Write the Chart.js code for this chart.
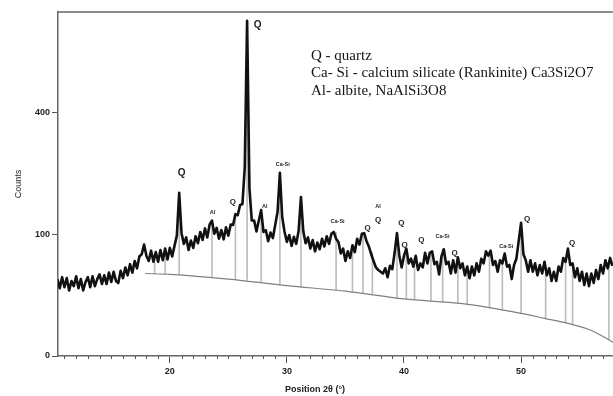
<!DOCTYPE html>
<html>
<head>
<meta charset="utf-8">
<script src="https://cdn.jsdelivr.net/npm/chart.js@4/dist/chart.umd.min.js"></script>
<style>
  html, body { margin: 0; padding: 0; background: #fff; overflow: hidden; }
  #wrap { width: 613px; height: 396px; position: relative; }
</style>
</head>
<body>
<div id="wrap"><canvas id="xrd" width="613" height="396"></canvas></div>
<script>
// ---- Diffraction pattern: counts sampled every 0.2 deg 2-theta from 10.4 ----
const TWO_THETA_START = 10.4;
const TWO_THETA_STEP = 0.2;
const counts = [
  40,31,42,32,41,29,38,33,43,31,
  40,29,37,42,32,43,33,40,45,35,
  44,35,47,37,48,38,36,49,41,53,
  44,57,47,61,52,67,70,84,68,61,
  75,60,73,60,76,62,78,63,79,67,
  82,98,180,102,85,95,76,90,79,97,
  86,104,91,110,95,117,124,101,111,93,
  107,92,112,98,117,116,136,134,154,156,
  240,760,190,124,124,105,124,144,104,107,
  89,103,94,116,140,227,130,104,88,99,
  82,96,85,106,171,105,86,95,78,91,
  74,87,77,93,81,97,85,101,104,93,
  88,71,78,61,74,65,83,73,93,84,
  101,102,89,81,70,61,53,50,48,46,
  52,42,55,51,72,102,68,53,68,78,
  58,64,54,68,50,58,53,72,58,72,
  74,57,60,45,67,77,57,60,46,62,
  47,66,52,58,44,54,41,54,44,58,
  48,64,58,74,68,75,56,61,48,62,
  58,71,54,56,40,56,64,90,120,70,
  62,48,62,48,58,44,56,46,60,44,
  52,38,48,38,54,48,65,60,78,56,
  58,42,52,38,48,34,46,33,46,36,
  50,40,56,46,62,52,65,55
];

// ---- Fitted background ----
const bgTwoTheta = [17.9, 20, 25, 30, 35, 40, 45, 50, 52, 54, 56, 57.85];
const bgCounts   = [46,   45, 40, 33.5, 28.4, 22, 18.5, 12.3, 9.6, 7.2, 4.4, 1.3];

// ---- Peak sticks (position, background level, peak top) ----
const stickPos  = [18.7, 19.6, 20.8, 23.6, 25.6, 26.6, 27.8, 29.4, 31.2, 34.2, 35.6, 36.5, 37.3, 39.4, 40.2, 40.9, 42.3, 43.3, 44.6, 45.4, 47.3, 48.4, 50.0, 52.1, 53.8, 54.4, 57.5];
const stickBase = [45.5, 45,   45,   41.5, 39.5, 38.5, 36.5, 34.2, 32.2, 29.2, 27.6, 26.5, 25.6, 22.7, 21.9, 21.4, 20.4, 19.7, 18.8, 18.0, 15.6, 14.3, 12.3, 9.5,  7.4,  6.6,  1.8];
const stickTop  = [70,   72,   180,  124,  134,  760,  144,  227,  171,  104,  80,   102,  73,   102,  78,   65,   69,   77,   64,   51,   73,   61,   120,  47,   62,   55,   55];

// ---- Phase labels on peaks ----
const peakLabel  = ['Q', 'Q', 'Al', 'Q', 'Al', 'Ca-Si', 'Ca-Si', 'Q', 'Al', 'Q', 'Q', 'Q', 'Q', 'Ca-Si', 'Q', 'Ca-Si', 'Q', 'Q'];
const peakLabelX = [21.02, 27.51, 23.64, 25.38, 28.11, 29.64, 34.33, 36.89, 37.78, 37.78, 39.77, 40.05, 41.48, 43.29, 44.32, 48.73, 50.52, 54.36];
const peakLabelY = [227, 741, 139, 160, 151, 248, 122, 111, 151, 125, 120, 83, 91, 96, 72, 81, 127, 86];

// ---- Axes ----
const xMajorTicks = [20, 30, 40, 50];
const yTicks = [0, 100, 400];
const X_MIN = 10.45, X_MAX = 57.85;
const Y_MAX = 800;

const phaseKey = [
  'Q - quartz',
  'Ca- Si - calcium silicate (Rankinite) Ca3Si2O7',
  'Al- albite, NaAlSi3O8'
];
const xTitle = 'Position 2θ (°)';
const yTitle = 'Counts';

// Square-root intensity axis
class SqrtScale extends Chart.LinearScale {
  _sqrtBounds() {
    return [Math.sqrt(Math.max(this.min, 0)), Math.sqrt(Math.max(this.max, 0))];
  }
  getPixelForValue(value) {
    if (value === null || value === undefined || isNaN(value)) return NaN;
    const [lo, hi] = this._sqrtBounds();
    return this.getPixelForDecimal((Math.sqrt(Math.max(value, 0)) - lo) / (hi - lo));
  }
  getValueForPixel(pixel) {
    const [lo, hi] = this._sqrtBounds();
    const s = lo + this.getDecimalForPixel(pixel) * (hi - lo);
    return s * s;
  }
}
SqrtScale.id = 'sqrt';
SqrtScale.defaults = Chart.LinearScale.defaults;
Chart.register(SqrtScale);

const patternPoints = counts.map((c, i) => ({ x: +(TWO_THETA_START + i * TWO_THETA_STEP).toFixed(2), y: c }));
const bgPoints = bgTwoTheta.map((x, i) => ({ x, y: bgCounts[i] }));
const stickBars = stickPos.map((x, i) => ({ x, y: [stickBase[i], stickTop[i]] }));

const frameAndText = {
  id: 'frameAndText',
  afterDraw(chart) {
    const { ctx, chartArea: a, scales } = chart;
    const xs = scales.x;
    ctx.save();
    // top frame line
    ctx.strokeStyle = '#666';
    ctx.lineWidth = 1.5;
    ctx.beginPath();
    ctx.moveTo(a.left, a.top);
    ctx.lineTo(a.right, a.top);
    ctx.stroke();
    // minor ticks every degree
    ctx.strokeStyle = '#555';
    ctx.lineWidth = 1;
    for (let v = Math.ceil(xs.min); v <= Math.floor(xs.max); v++) {
      if (xMajorTicks.includes(v)) continue;
      const px = Math.round(xs.getPixelForValue(v)) + 0.5;
      ctx.beginPath();
      ctx.moveTo(px, a.bottom);
      ctx.lineTo(px, a.bottom + 3);
      ctx.stroke();
    }
    // x axis title
    ctx.fillStyle = '#222';
    ctx.font = 'bold 9px "Liberation Sans", Arial, sans-serif';
    ctx.textAlign = 'center';
    ctx.textBaseline = 'middle';
    ctx.fillText(xTitle, a.left + 257, a.bottom + 34);
    // phase key
    ctx.fillStyle = '#151515';
    ctx.font = '15px "Liberation Serif", "Times New Roman", serif';
    ctx.textAlign = 'left';
    phaseKey.forEach((t, i) => ctx.fillText(t, a.left + 253, a.top + 44 + i * 17.5));
    ctx.restore();
  },
  afterDatasetsDraw(chart) {
    const { ctx, scales } = chart;
    ctx.save();
    ctx.fillStyle = '#222';
    ctx.textAlign = 'center';
    ctx.textBaseline = 'middle';
    peakLabel.forEach((t, i) => {
      let size = t === 'Q' ? 8 : 5.5;
      if (i < 2) size = 10;
      ctx.font = `bold ${size}px "Liberation Sans", Arial, sans-serif`;
      ctx.fillText(t, scales.x.getPixelForValue(peakLabelX[i]), scales.y.getPixelForValue(peakLabelY[i]));
    });
    ctx.restore();
  }
};

new Chart(document.getElementById('xrd'), {
  type: 'line',
  data: {
    datasets: [
      {
        type: 'line',
        data: patternPoints,
        borderColor: '#111',
        borderWidth: 2.6,
        borderJoinStyle: 'round',
        pointRadius: 0,
        tension: 0,
        fill: false,
        order: 0
      },
      {
        type: 'line',
        data: bgPoints,
        borderColor: '#808080',
        borderWidth: 1.2,
        pointRadius: 0,
        cubicInterpolationMode: 'monotone',
        fill: false,
        order: 1
      },
      {
        type: 'bar',
        data: stickBars,
        backgroundColor: '#bdbdbd',
        borderWidth: 0,
        barThickness: 1,
        grouped: false,
        order: 2
      }
    ]
  },
  options: {
    responsive: false,
    animation: false,
    devicePixelRatio: 1,
    layout: { padding: { top: 12, left: 0, right: 0, bottom: 0 } },
    plugins: { legend: { display: false }, tooltip: { enabled: false } },
    scales: {
      x: {
        type: 'linear',
        min: X_MIN,
        max: X_MAX,
        offset: false,
        afterBuildTicks: s => { s.ticks = xMajorTicks.map(v => ({ value: v })); },
        afterFit: s => { s.height = 40; },
        grid: { offset: false, drawOnChartArea: false, tickLength: 7, tickColor: '#555', tickWidth: 1 },
        border: { color: '#666', width: 1.5 },
        ticks: {
          autoSkip: false, maxRotation: 0, padding: 3, color: '#222',
          font: { size: 9, weight: 'bold', family: '"Liberation Sans", Arial, sans-serif' },
          callback: v => String(v)
        }
      },
      y: {
        type: 'sqrt',
        min: 0,
        max: Y_MAX,
        afterBuildTicks: s => { s.ticks = yTicks.map(v => ({ value: v })); },
        afterFit: s => { s.width = 58; },
        grid: { offset: false, drawOnChartArea: false, tickLength: 6, tickColor: '#555', tickWidth: 1 },
        border: { color: '#666', width: 1.5 },
        ticks: {
          padding: 2, color: '#222',
          font: { size: 9, weight: 'bold', family: '"Liberation Sans", Arial, sans-serif' },
          callback: v => String(v)
        },
        title: {
          display: true, text: yTitle, color: '#222',
          font: { size: 9, family: '"Liberation Sans", Arial, sans-serif' },
          padding: { top: 13, bottom: 0 }
        }
      }
    }
  },
  plugins: [frameAndText]
});
</script>
</body>
</html>
